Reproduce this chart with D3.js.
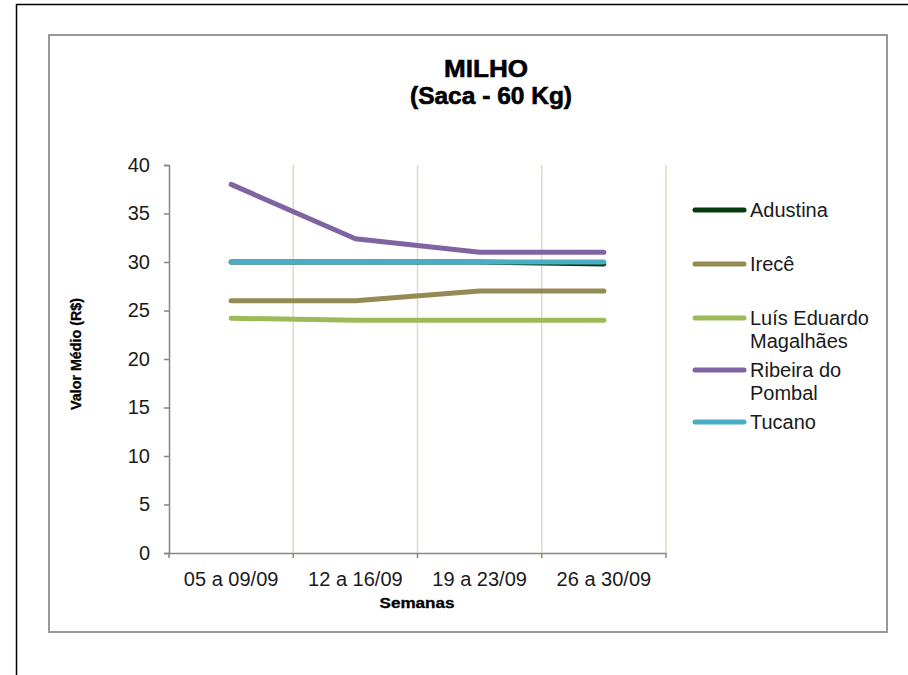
<!DOCTYPE html>
<html><head><meta charset="utf-8">
<script src="https://cdn.jsdelivr.net/npm/d3@7"></script>
<style>body{margin:0;background:#fff}svg{display:block}text{font-family:"Liberation Sans",Arial,sans-serif}</style>
</head><body>
<svg id="c" width="908" height="675"></svg>
<script>
const categories = ["05 a 09/09","12 a 16/09","19 a 23/09","26 a 30/09"];
const seriesNames = ["Adustina","Irecê","Luís Eduardo Magalhães","Ribeira do Pombal","Tucano"];
const adustina = [30, 30, 30, 29.8];
const irece = [26, 26, 27, 27];
const lem = [24.2, 24, 24, 24];
const ribeira = [38, 32.4, 31, 31];
const tucano = [30, 30, 30, 30];
const colors = ["#06380d","#948a54","#9bbb59","#8064a2","#4bacc6"];
const yTicks = [0,5,10,15,20,25,30,35,40];
const legendLines = [["Adustina"],["Irecê"],["Luís Eduardo","Magalhães"],["Ribeira do","Pombal"],["Tucano"]];

const series = [adustina, irece, lem, ribeira, tucano];
const svg = d3.select("#c");

// outer frame
svg.append("path").attr("d","M16.5,675 V4.5 H908").attr("fill","none").attr("stroke","#000").attr("stroke-width",1.5);
// chart box
svg.append("rect").attr("x",49).attr("y",35).attr("width",838).attr("height",597)
  .attr("fill","#fff").attr("stroke","#999").attr("stroke-width",2);

const x0 = 169, x1 = 666, yTop = 165, yBot = 553;
const x = d3.scaleBand().domain(categories).range([x0, x1]);
const y = d3.scaleLinear().domain([0,40]).range([yBot, yTop]);

// vertical gridlines
svg.append("g").selectAll("line").data(categories).join("line")
  .attr("x1", d => x(d) + x.bandwidth()).attr("x2", d => x(d) + x.bandwidth())
  .attr("y1", yTop).attr("y2", yBot).attr("stroke","#e0dcc2").attr("stroke-width",1.5);

// y axis
const ya = svg.append("g").attr("transform",`translate(${x0},0)`)
  .call(d3.axisLeft(y).tickValues(yTicks).tickSize(5).tickPadding(14));
ya.select(".domain").attr("stroke","#868686").attr("stroke-width",1.5);
ya.selectAll(".tick line").attr("stroke","#868686").attr("stroke-width",1.5);
ya.selectAll("text").attr("font-size",20).attr("fill","#1a1a1a");

// x axis
const xa = svg.append("g").attr("transform",`translate(0,${yBot})`)
  .call(d3.axisBottom(x).tickSize(0).tickPadding(19));
xa.select(".domain").attr("stroke","#868686").attr("stroke-width",1.5);
xa.selectAll("text").attr("font-size",20).attr("fill","#1a1a1a");
const bounds = [x0].concat(categories.map(d => x(d) + x.bandwidth()));
svg.append("g").selectAll("line").data(bounds).join("line")
  .attr("x1", d => d).attr("x2", d => d).attr("y1", yBot).attr("y2", yBot + 5)
  .attr("stroke","#868686").attr("stroke-width",1.5);

// lines
const line = d3.line().x((d,i) => x(categories[i]) + x.bandwidth()/2).y(d => y(d));
series.forEach((s, i) => {
  svg.append("path").datum(s).attr("d", line).attr("fill","none")
    .attr("stroke", colors[i]).attr("stroke-width",5).attr("stroke-linecap","round").attr("stroke-linejoin","round");
});

// titles
svg.append("text").attr("x",486).attr("y",77).attr("text-anchor","middle")
  .attr("font-size",24).attr("font-weight","bold").attr("stroke","#000").attr("stroke-width",0.6)
  .attr("textLength",84).attr("lengthAdjust","spacingAndGlyphs").text("MILHO");
svg.append("text").attr("x",491).attr("y",104).attr("text-anchor","middle")
  .attr("font-size",24).attr("font-weight","bold").attr("stroke","#000").attr("stroke-width",0.6)
  .attr("textLength",162).attr("lengthAdjust","spacingAndGlyphs").text("(Saca - 60 Kg)");
svg.append("text").attr("transform","translate(81,354) rotate(-90)").attr("text-anchor","middle")
  .attr("font-size",14).attr("font-weight","bold").attr("stroke","#000").attr("stroke-width",0.3)
  .attr("textLength",112).attr("lengthAdjust","spacingAndGlyphs").text("Valor Médio (R$)");
svg.append("text").attr("x",417).attr("y",608).attr("text-anchor","middle")
  .attr("font-size",14).attr("font-weight","bold").attr("stroke","#000").attr("stroke-width",0.3)
  .attr("textLength",75).attr("lengthAdjust","spacingAndGlyphs").text("Semanas");

// legend
const legY = [210, 264, 318, 370, 422];
legendLines.forEach((lines, i) => {
  const g = svg.append("g");
  g.append("line").attr("x1",695).attr("x2",744).attr("y1",legY[i]).attr("y2",legY[i])
    .attr("stroke",colors[i]).attr("stroke-width",5).attr("stroke-linecap","round");
  const t = g.append("text").attr("x",750).attr("y",legY[i] + 7).attr("font-size",20).attr("fill","#1a1a1a");
  lines.forEach((l, j) => t.append("tspan").attr("x",750).attr("dy", j === 0 ? 0 : 23).text(l));
});
</script>
</body></html>
